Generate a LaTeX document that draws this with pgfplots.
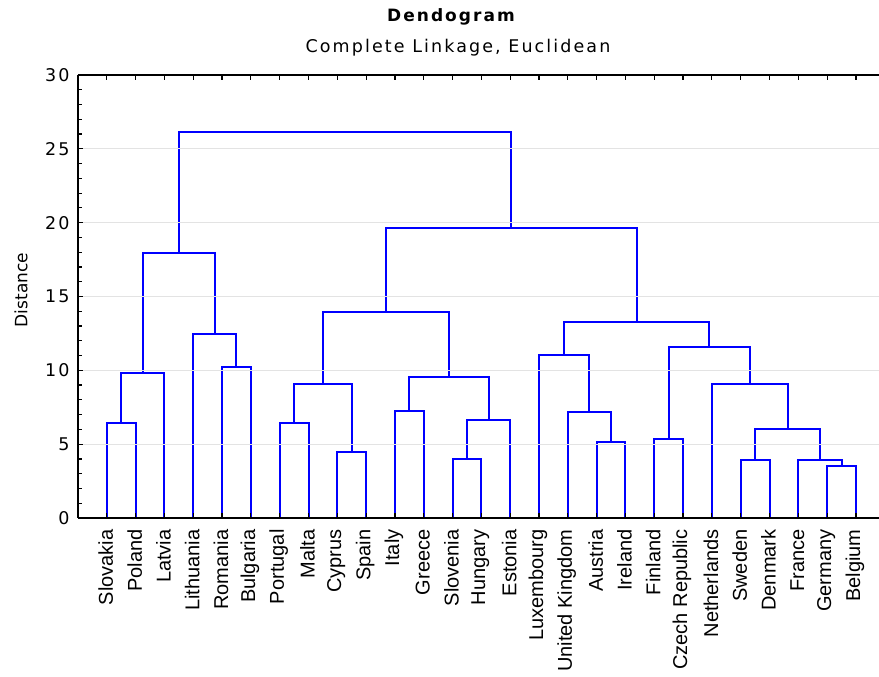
\documentclass[border=0pt]{standalone}
\usepackage{pgfplots}
\pgfplotsset{compat=1.18}
\usepackage{fontspec}
\setmainfont{DejaVu Sans}
\newfontfamily\labfont{Liberation Sans}
\newfontfamily\trackfont[LetterSpace=12]{DejaVu Sans}
\pgfplotsset{every non boxed y axis/.style={}}
\begin{document}
\begin{tikzpicture}
\path[use as bounding box] (-78pt,-159pt) rectangle (801pt,518pt);
\begin{axis}[
  at={(0pt,0pt)}, anchor=south west,
  scale only axis, width=801pt, height=443pt,
  xmin=0, xmax=27.8, ymin=0, ymax=30,
  axis x line=box, axis y line=left,
  y axis line style={-},
  axis line style={line width=1.4pt},
  axis on top,
  tick align=inside,
  major tick length=5pt, minor tick length=4pt,
  every tick/.style={black, line width=1.2pt},
  xtick={1,...,27},
  xticklabels={Slovakia,Poland,Latvia,Lithuania,Romania,Bulgaria,Portugal,Malta,Cyprus,Spain,Italy,Greece,Slovenia,Hungary,Estonia,Luxembourg,United Kingdom,Austria,Ireland,Finland,Czech Republic,Netherlands,Sweden,Denmark,France,Germany,Belgium},
  xticklabel style={rotate=90, anchor=east, font=\labfont\fontsize{20}{24}\selectfont, xshift=-8pt, yshift=1pt},
  ytick={0,5,...,30},
  minor y tick num=4,
  ytick pos=left,
  /pgf/number format/assume math mode=true,
  yticklabel style={font=\trackfont\fontsize{17.5}{20}\selectfont, xshift=-5pt},
  ymajorgrids,
  major grid style={gray!22, line width=0.8pt},
  clip=false,
  dend/.style={blue, line width=2pt, mark=none},
]
\addplot[dend] coordinates {(1,0)(1,6.43)(2,6.43)(2,0)};
\addplot[dend] coordinates {(1.5,6.43)(1.5,9.82)(3,9.82)(3,0)};
\addplot[dend] coordinates {(5,0)(5,10.22)(6,10.22)(6,0)};
\addplot[dend] coordinates {(4,0)(4,12.46)(5.5,12.46)(5.5,10.22)};
\addplot[dend] coordinates {(2.25,9.82)(2.25,17.94)(4.75,17.94)(4.75,12.46)};
\addplot[dend] coordinates {(7,0)(7,6.43)(8,6.43)(8,0)};
\addplot[dend] coordinates {(9,0)(9,4.5)(10,4.5)(10,0)};
\addplot[dend] coordinates {(7.5,6.43)(7.5,9.1)(9.5,9.1)(9.5,4.5)};
\addplot[dend] coordinates {(11,0)(11,7.24)(12,7.24)(12,0)};
\addplot[dend] coordinates {(13,0)(13,3.99)(14,3.99)(14,0)};
\addplot[dend] coordinates {(13.5,3.99)(13.5,6.66)(15,6.66)(15,0)};
\addplot[dend] coordinates {(11.5,7.24)(11.5,9.55)(14.25,9.55)(14.25,6.66)};
\addplot[dend] coordinates {(8.5,9.1)(8.5,13.92)(12.875,13.92)(12.875,9.55)};
\addplot[dend] coordinates {(18,0)(18,5.15)(19,5.15)(19,0)};
\addplot[dend] coordinates {(17,0)(17,7.15)(18.5,7.15)(18.5,5.15)};
\addplot[dend] coordinates {(16,0)(16,11.04)(17.75,11.04)(17.75,7.15)};
\addplot[dend] coordinates {(20,0)(20,5.33)(21,5.33)(21,0)};
\addplot[dend] coordinates {(23,0)(23,3.90)(24,3.90)(24,0)};
\addplot[dend] coordinates {(26,0)(26,3.54)(27,3.54)(27,0)};
\addplot[dend] coordinates {(25,0)(25,3.93)(26.5,3.93)(26.5,3.54)};
\addplot[dend] coordinates {(23.5,3.90)(23.5,6.0)(25.75,6.0)(25.75,3.93)};
\addplot[dend] coordinates {(22,0)(22,9.07)(24.625,9.07)(24.625,6.0)};
\addplot[dend] coordinates {(20.5,5.33)(20.5,11.58)(23.3125,11.58)(23.3125,9.07)};
\addplot[dend] coordinates {(16.875,11.04)(16.875,13.27)(21.90625,13.27)(21.90625,11.58)};
\addplot[dend] coordinates {(10.6875,13.92)(10.6875,19.63)(19.390625,19.63)(19.390625,13.27)};
\addplot[dend] coordinates {(3.5,17.94)(3.5,26.13)(15.0390625,26.13)(15.0390625,19.63)};
\end{axis}
\node[font=\trackfont\bfseries\fontsize{17}{20}\selectfont] at (373pt,501pt) {Dendogram};
\node[font=\trackfont\fontsize{17.5}{20}\selectfont] at (380pt,470pt) {Complete Linkage, Euclidean};
\node[rotate=90, font=\fontsize{17}{20}\selectfont] at (-57pt,228pt) {Distance};
\end{tikzpicture}
\end{document}
